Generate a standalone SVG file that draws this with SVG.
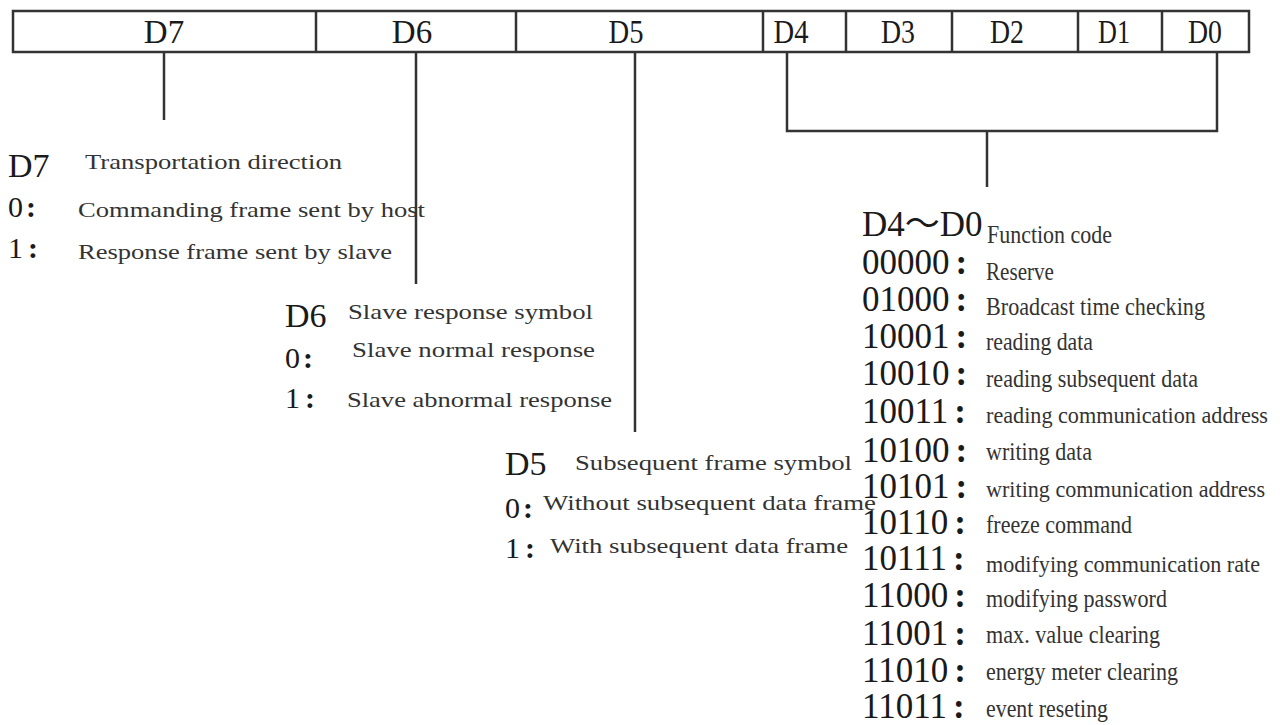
<svg xmlns="http://www.w3.org/2000/svg" width="1280" height="725" viewBox="0 0 1280 725">
<style>
.ln{stroke:#333;stroke-width:2.5;fill:none}
.cell{font-family:"Liberation Serif",serif;font-size:33px;fill:#1a1a1a;text-anchor:middle}
.lab{font-family:"Liberation Serif",serif;font-size:34px;fill:#1a1a1a}
.num{font-family:"Liberation Serif",serif;font-size:30px;fill:#1a1a1a}
.code{font-family:"Liberation Serif","Noto Sans CJK SC",serif;font-size:35px;fill:#1a1a1a}
.col{font-weight:bold}
.desc{font-family:"Liberation Serif",serif;font-size:22px;fill:#333}
.fn{font-family:"Liberation Serif",serif;font-size:26px;fill:#333}
.fnl{font-family:"Liberation Serif",serif;font-size:23px;fill:#333}
</style>
<rect width="1280" height="725" fill="#fff"/>
<g id="register">
<rect class="ln" x="13" y="11" width="1236" height="41"/>
<line class="ln" x1="316" y1="11" x2="316" y2="52"/>
<line class="ln" x1="516" y1="11" x2="516" y2="52"/>
<line class="ln" x1="763" y1="11" x2="763" y2="52"/>
<line class="ln" x1="846" y1="11" x2="846" y2="52"/>
<line class="ln" x1="952" y1="11" x2="952" y2="52"/>
<line class="ln" x1="1078" y1="11" x2="1078" y2="52"/>
<line class="ln" x1="1162" y1="11" x2="1162" y2="52"/>
<text class="cell" x="164" y="43">D7</text>
<text class="cell" x="412" y="43">D6</text>
<text class="cell" x="626" y="43" textLength="35" lengthAdjust="spacingAndGlyphs">D5</text>
<text class="cell" x="791" y="43" textLength="35" lengthAdjust="spacingAndGlyphs">D4</text>
<text class="cell" x="898" y="43" textLength="34" lengthAdjust="spacingAndGlyphs">D3</text>
<text class="cell" x="1007" y="43" textLength="34" lengthAdjust="spacingAndGlyphs">D2</text>
<text class="cell" x="1114" y="43" textLength="32" lengthAdjust="spacingAndGlyphs">D1</text>
<text class="cell" x="1205" y="43" textLength="34" lengthAdjust="spacingAndGlyphs">D0</text>
</g>
<g id="connectors">
<line class="ln" x1="164" y1="52" x2="164" y2="120"/>
<line class="ln" x1="416" y1="52" x2="416" y2="284"/>
<line class="ln" x1="635" y1="52" x2="635" y2="432"/>
<polyline class="ln" points="787,52 787,131 1217,131 1217,52"/>
<line class="ln" x1="987" y1="131" x2="987" y2="187"/>
</g>
<g id="d7">
<text class="lab" x="8" y="177">D7</text>
<text class="desc" x="85" y="169" textLength="257" lengthAdjust="spacingAndGlyphs">Transportation direction</text>
<text class="num" x="8" y="217">0<tspan class="col" dx="3">:</tspan></text>
<text class="desc" x="78" y="217" textLength="347" lengthAdjust="spacingAndGlyphs">Commanding frame sent by host</text>
<text class="num" x="8" y="258">1<tspan class="col" dx="5">:</tspan></text>
<text class="desc" x="78" y="259" textLength="314" lengthAdjust="spacingAndGlyphs">Response frame sent by slave</text>
</g>
<g id="d6">
<text class="lab" x="285" y="327">D6</text>
<text class="desc" x="348" y="319" textLength="245" lengthAdjust="spacingAndGlyphs">Slave response symbol</text>
<text class="num" x="285" y="368">0<tspan class="col" dx="3">:</tspan></text>
<text class="desc" x="352" y="357" textLength="243" lengthAdjust="spacingAndGlyphs">Slave normal response</text>
<text class="num" x="285" y="408">1<tspan class="col" dx="5">:</tspan></text>
<text class="desc" x="347" y="407" textLength="265" lengthAdjust="spacingAndGlyphs">Slave abnormal response</text>
</g>
<g id="d5">
<text class="lab" x="505" y="475">D5</text>
<text class="desc" x="575" y="470" textLength="277" lengthAdjust="spacingAndGlyphs">Subsequent frame symbol</text>
<text class="num" x="505" y="518">0<tspan class="col" dx="3">:</tspan></text>
<text class="desc" x="543" y="510" textLength="333" lengthAdjust="spacingAndGlyphs">Without subsequent data frame</text>
<text class="num" x="505" y="558">1<tspan class="col" dx="5">:</tspan></text>
<text class="desc" x="550" y="553" textLength="298" lengthAdjust="spacingAndGlyphs">With subsequent data frame</text>
</g>
<g id="d4d0">
<text class="code" x="862" y="236" font-size="36">D4～D0</text>
<text class="fn" x="987" y="243" textLength="125" lengthAdjust="spacingAndGlyphs">Function code</text>
<text class="code" x="862" y="274">00000<tspan class="col" dx="6">:</tspan></text><text class="fn" x="986" y="280" textLength="68" lengthAdjust="spacingAndGlyphs">Reserve</text>
<text class="code" x="862" y="311">01000<tspan class="col" dx="6">:</tspan></text><text class="fn" x="986" y="315" textLength="219" lengthAdjust="spacingAndGlyphs">Broadcast time checking</text>
<text class="code" x="862" y="348">10001<tspan class="col" dx="6">:</tspan></text><text class="fn" x="986" y="350" textLength="107" lengthAdjust="spacingAndGlyphs">reading data</text>
<text class="code" x="862" y="385">10010<tspan class="col" dx="6">:</tspan></text><text class="fn" x="986" y="387" textLength="212" lengthAdjust="spacingAndGlyphs">reading subsequent data</text>
<text class="code" x="862" y="423">10011<tspan class="col" dx="6">:</tspan></text><text class="fnl" x="986" y="423" textLength="282" lengthAdjust="spacingAndGlyphs">reading communication address</text>
<text class="code" x="862" y="462">10100<tspan class="col" dx="6">:</tspan></text><text class="fn" x="986" y="460" textLength="106" lengthAdjust="spacingAndGlyphs">writing data</text>
<text class="code" x="862" y="498">10101<tspan class="col" dx="6">:</tspan></text><text class="fnl" x="986" y="497" textLength="279" lengthAdjust="spacingAndGlyphs">writing communication address</text>
<text class="code" x="862" y="534">10110<tspan class="col" dx="6">:</tspan></text><text class="fn" x="986" y="533" textLength="146" lengthAdjust="spacingAndGlyphs">freeze command</text>
<text class="code" x="862" y="570">10111<tspan class="col" dx="6">:</tspan></text><text class="fnl" x="986" y="572" textLength="274" lengthAdjust="spacingAndGlyphs">modifying communication rate</text>
<text class="code" x="862" y="607">11000<tspan class="col" dx="6">:</tspan></text><text class="fn" x="986" y="607" textLength="181" lengthAdjust="spacingAndGlyphs">modifying password</text>
<text class="code" x="862" y="645">11001<tspan class="col" dx="6">:</tspan></text><text class="fn" x="986" y="643" textLength="174" lengthAdjust="spacingAndGlyphs">max. value clearing</text>
<text class="code" x="862" y="682">11010<tspan class="col" dx="6">:</tspan></text><text class="fn" x="986" y="680" textLength="192" lengthAdjust="spacingAndGlyphs">energy meter clearing</text>
<text class="code" x="862" y="718">11011<tspan class="col" dx="6">:</tspan></text><text class="fn" x="986" y="717" textLength="122" lengthAdjust="spacingAndGlyphs">event reseting</text>
</g>
</svg>
